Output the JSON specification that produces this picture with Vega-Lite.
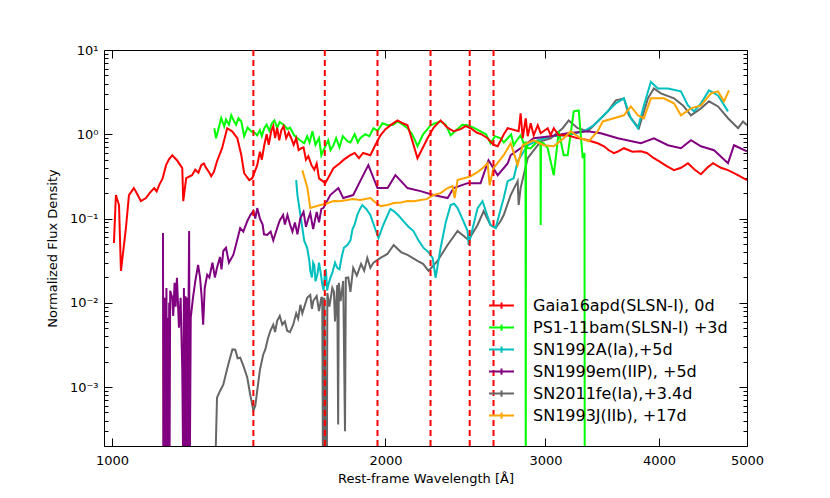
{
  "$schema": "https://vega.github.io/schema/vega-lite/v6.json",
  "width": 643,
  "height": 396,
  "autosize": "none",
  "padding": {"left": 104, "top": 50, "right": 83, "bottom": 52},
  "background": "white",
  "config": {
    "view": {"stroke": "black", "strokeWidth": 1},
    "font": "DejaVu Sans",
    "axis": {"grid": false, "domain": false, "tickColor": "black", "labelColor": "black", "titleColor": "black", "labelFont": "DejaVu Sans", "titleFont": "DejaVu Sans", "labelFontSize": 13, "titleFontSize": 13, "titleFontWeight": "normal", "tickWidth": 1}
  },
  "datasets": {
    "lines": [{"w": 1431}, {"w": 1715}, {"w": 1960}, {"w": 2242}, {"w": 2476}, {"w": 2630}],
    "ticks": [{"v": 0.001}, {"v": 0.01}, {"v": 0.1}, {"v": 1}, {"v": 10}],
    "spectra": [
      {"s": "SN2011fe(Ia),+3.4d", "w": 1299, "f": 0.0001},
      {"s": "SN2011fe(Ia),+3.4d", "w": 1305, "f": 0.00075},
      {"s": "SN2011fe(Ia),+3.4d", "w": 1315, "f": 0.0009},
      {"s": "SN2011fe(Ia),+3.4d", "w": 1326, "f": 0.00107},
      {"s": "SN2011fe(Ia),+3.4d", "w": 1338, "f": 0.0016},
      {"s": "SN2011fe(Ia),+3.4d", "w": 1349, "f": 0.00223},
      {"s": "SN2011fe(Ia),+3.4d", "w": 1357, "f": 0.0028},
      {"s": "SN2011fe(Ia),+3.4d", "w": 1367, "f": 0.00278},
      {"s": "SN2011fe(Ia),+3.4d", "w": 1375, "f": 0.0022},
      {"s": "SN2011fe(Ia),+3.4d", "w": 1384, "f": 0.00223},
      {"s": "SN2011fe(Ia),+3.4d", "w": 1395, "f": 0.0018},
      {"s": "SN2011fe(Ia),+3.4d", "w": 1409, "f": 0.0013},
      {"s": "SN2011fe(Ia),+3.4d", "w": 1420, "f": 0.0008},
      {"s": "SN2011fe(Ia),+3.4d", "w": 1431, "f": 0.00053},
      {"s": "SN2011fe(Ia),+3.4d", "w": 1438, "f": 0.0006},
      {"s": "SN2011fe(Ia),+3.4d", "w": 1445, "f": 0.00091},
      {"s": "SN2011fe(Ia),+3.4d", "w": 1455, "f": 0.0016},
      {"s": "SN2011fe(Ia),+3.4d", "w": 1467, "f": 0.00242},
      {"s": "SN2011fe(Ia),+3.4d", "w": 1475, "f": 0.0028},
      {"s": "SN2011fe(Ia),+3.4d", "w": 1485, "f": 0.0038},
      {"s": "SN2011fe(Ia),+3.4d", "w": 1494, "f": 0.00466},
      {"s": "SN2011fe(Ia),+3.4d", "w": 1505, "f": 0.0055},
      {"s": "SN2011fe(Ia),+3.4d", "w": 1512, "f": 0.0045},
      {"s": "SN2011fe(Ia),+3.4d", "w": 1520, "f": 0.00612},
      {"s": "SN2011fe(Ia),+3.4d", "w": 1530, "f": 0.007},
      {"s": "SN2011fe(Ia),+3.4d", "w": 1540, "f": 0.0055},
      {"s": "SN2011fe(Ia),+3.4d", "w": 1550, "f": 0.006},
      {"s": "SN2011fe(Ia),+3.4d", "w": 1559, "f": 0.00466},
      {"s": "SN2011fe(Ia),+3.4d", "w": 1570, "f": 0.0045},
      {"s": "SN2011fe(Ia),+3.4d", "w": 1583, "f": 0.00549},
      {"s": "SN2011fe(Ia),+3.4d", "w": 1595, "f": 0.0075},
      {"s": "SN2011fe(Ia),+3.4d", "w": 1603, "f": 0.0065},
      {"s": "SN2011fe(Ia),+3.4d", "w": 1612, "f": 0.00947},
      {"s": "SN2011fe(Ia),+3.4d", "w": 1620, "f": 0.0075},
      {"s": "SN2011fe(Ia),+3.4d", "w": 1640, "f": 0.0115},
      {"s": "SN2011fe(Ia),+3.4d", "w": 1653, "f": 0.0124},
      {"s": "SN2011fe(Ia),+3.4d", "w": 1660, "f": 0.0085},
      {"s": "SN2011fe(Ia),+3.4d", "w": 1666, "f": 0.0106},
      {"s": "SN2011fe(Ia),+3.4d", "w": 1680, "f": 0.012},
      {"s": "SN2011fe(Ia),+3.4d", "w": 1690, "f": 0.008},
      {"s": "SN2011fe(Ia),+3.4d", "w": 1700, "f": 0.0115},
      {"s": "SN2011fe(Ia),+3.4d", "w": 1704, "f": 0.0115},
      {"s": "SN2011fe(Ia),+3.4d", "w": 1707, "f": 0.0001},
      {"s": "SN2011fe(Ia),+3.4d", "w": 1711, "f": 0.0001},
      {"s": "SN2011fe(Ia),+3.4d", "w": 1713, "f": 0.0115},
      {"s": "SN2011fe(Ia),+3.4d", "w": 1720, "f": 0.0001},
      {"s": "SN2011fe(Ia),+3.4d", "w": 1724, "f": 0.0001},
      {"s": "SN2011fe(Ia),+3.4d", "w": 1726, "f": 0.0131},
      {"s": "SN2011fe(Ia),+3.4d", "w": 1735, "f": 0.009},
      {"s": "SN2011fe(Ia),+3.4d", "w": 1748, "f": 0.015},
      {"s": "SN2011fe(Ia),+3.4d", "w": 1755, "f": 0.0135},
      {"s": "SN2011fe(Ia),+3.4d", "w": 1760, "f": 0.006},
      {"s": "SN2011fe(Ia),+3.4d", "w": 1770, "f": 0.0163},
      {"s": "SN2011fe(Ia),+3.4d", "w": 1774, "f": 0.00036},
      {"s": "SN2011fe(Ia),+3.4d", "w": 1777, "f": 0.0173},
      {"s": "SN2011fe(Ia),+3.4d", "w": 1785, "f": 0.0105},
      {"s": "SN2011fe(Ia),+3.4d", "w": 1797, "f": 0.0182},
      {"s": "SN2011fe(Ia),+3.4d", "w": 1805, "f": 0.0003},
      {"s": "SN2011fe(Ia),+3.4d", "w": 1809, "f": 0.0198},
      {"s": "SN2011fe(Ia),+3.4d", "w": 1820, "f": 0.02},
      {"s": "SN2011fe(Ia),+3.4d", "w": 1830, "f": 0.0135},
      {"s": "SN2011fe(Ia),+3.4d", "w": 1843, "f": 0.026},
      {"s": "SN2011fe(Ia),+3.4d", "w": 1860, "f": 0.021},
      {"s": "SN2011fe(Ia),+3.4d", "w": 1880, "f": 0.029},
      {"s": "SN2011fe(Ia),+3.4d", "w": 1895, "f": 0.024},
      {"s": "SN2011fe(Ia),+3.4d", "w": 1910, "f": 0.0341},
      {"s": "SN2011fe(Ia),+3.4d", "w": 1925, "f": 0.026},
      {"s": "SN2011fe(Ia),+3.4d", "w": 1940, "f": 0.03},
      {"s": "SN2011fe(Ia),+3.4d", "w": 1975, "f": 0.0341},
      {"s": "SN2011fe(Ia),+3.4d", "w": 2010, "f": 0.038},
      {"s": "SN2011fe(Ia),+3.4d", "w": 2042, "f": 0.0486},
      {"s": "SN2011fe(Ia),+3.4d", "w": 2080, "f": 0.04},
      {"s": "SN2011fe(Ia),+3.4d", "w": 2115, "f": 0.037},
      {"s": "SN2011fe(Ia),+3.4d", "w": 2169, "f": 0.0314},
      {"s": "SN2011fe(Ia),+3.4d", "w": 2200, "f": 0.029},
      {"s": "SN2011fe(Ia),+3.4d", "w": 2231, "f": 0.0239},
      {"s": "SN2011fe(Ia),+3.4d", "w": 2282, "f": 0.0314},
      {"s": "SN2011fe(Ia),+3.4d", "w": 2341, "f": 0.0486},
      {"s": "SN2011fe(Ia),+3.4d", "w": 2401, "f": 0.0711},
      {"s": "SN2011fe(Ia),+3.4d", "w": 2469, "f": 0.0557},
      {"s": "SN2011fe(Ia),+3.4d", "w": 2526, "f": 0.0838},
      {"s": "SN2011fe(Ia),+3.4d", "w": 2565, "f": 0.1227},
      {"s": "SN2011fe(Ia),+3.4d", "w": 2610, "f": 0.0838},
      {"s": "SN2011fe(Ia),+3.4d", "w": 2644, "f": 0.0772},
      {"s": "SN2011fe(Ia),+3.4d", "w": 2678, "f": 0.0934},
      {"s": "SN2011fe(Ia),+3.4d", "w": 2699, "f": 0.11},
      {"s": "SN2011fe(Ia),+3.4d", "w": 2747, "f": 0.19},
      {"s": "SN2011fe(Ia),+3.4d", "w": 2796, "f": 0.278},
      {"s": "SN2011fe(Ia),+3.4d", "w": 2803, "f": 0.1445},
      {"s": "SN2011fe(Ia),+3.4d", "w": 2817, "f": 0.23},
      {"s": "SN2011fe(Ia),+3.4d", "w": 2868, "f": 0.52},
      {"s": "SN2011fe(Ia),+3.4d", "w": 2964, "f": 0.826},
      {"s": "SN2011fe(Ia),+3.4d", "w": 3040, "f": 0.897},
      {"s": "SN2011fe(Ia),+3.4d", "w": 3134, "f": 1.18},
      {"s": "SN2011fe(Ia),+3.4d", "w": 3182, "f": 1.46},
      {"s": "SN2011fe(Ia),+3.4d", "w": 3255, "f": 1.18},
      {"s": "SN2011fe(Ia),+3.4d", "w": 3339, "f": 1.085},
      {"s": "SN2011fe(Ia),+3.4d", "w": 3425, "f": 1.42},
      {"s": "SN2011fe(Ia),+3.4d", "w": 3514, "f": 1.87},
      {"s": "SN2011fe(Ia),+3.4d", "w": 3586, "f": 2.53},
      {"s": "SN2011fe(Ia),+3.4d", "w": 3660, "f": 2.67},
      {"s": "SN2011fe(Ia),+3.4d", "w": 3706, "f": 1.68},
      {"s": "SN2011fe(Ia),+3.4d", "w": 3802, "f": 1.18},
      {"s": "SN2011fe(Ia),+3.4d", "w": 3890, "f": 2.67},
      {"s": "SN2011fe(Ia),+3.4d", "w": 3949, "f": 3.5},
      {"s": "SN2011fe(Ia),+3.4d", "w": 4020, "f": 3.06},
      {"s": "SN2011fe(Ia),+3.4d", "w": 4155, "f": 2.67},
      {"s": "SN2011fe(Ia),+3.4d", "w": 4251, "f": 2.2},
      {"s": "SN2011fe(Ia),+3.4d", "w": 4338, "f": 1.68},
      {"s": "SN2011fe(Ia),+3.4d", "w": 4449, "f": 2.03},
      {"s": "SN2011fe(Ia),+3.4d", "w": 4541, "f": 2.46},
      {"s": "SN2011fe(Ia),+3.4d", "w": 4646, "f": 2.14},
      {"s": "SN2011fe(Ia),+3.4d", "w": 4765, "f": 1.55},
      {"s": "SN2011fe(Ia),+3.4d", "w": 4888, "f": 1.18},
      {"s": "SN2011fe(Ia),+3.4d", "w": 4950, "f": 1.42},
      {"s": "SN2011fe(Ia),+3.4d", "w": 5000, "f": 1.28},

      {"s": "SN1992A(Ia),+5d", "w": 1595, "f": 0.286},
      {"s": "SN1992A(Ia),+5d", "w": 1600, "f": 0.19},
      {"s": "SN1992A(Ia),+5d", "w": 1616, "f": 0.0934},
      {"s": "SN1992A(Ia),+5d", "w": 1628, "f": 0.0542},
      {"s": "SN1992A(Ia),+5d", "w": 1640, "f": 0.045},
      {"s": "SN1992A(Ia),+5d", "w": 1649, "f": 0.0314},
      {"s": "SN1992A(Ia),+5d", "w": 1653, "f": 0.0239},
      {"s": "SN1992A(Ia),+5d", "w": 1660, "f": 0.02},
      {"s": "SN1992A(Ia),+5d", "w": 1665, "f": 0.03},
      {"s": "SN1992A(Ia),+5d", "w": 1670, "f": 0.028},
      {"s": "SN1992A(Ia),+5d", "w": 1675, "f": 0.018},
      {"s": "SN1992A(Ia),+5d", "w": 1683, "f": 0.0215},
      {"s": "SN1992A(Ia),+5d", "w": 1690, "f": 0.03},
      {"s": "SN1992A(Ia),+5d", "w": 1696, "f": 0.0239},
      {"s": "SN1992A(Ia),+5d", "w": 1700, "f": 0.02},
      {"s": "SN1992A(Ia),+5d", "w": 1704, "f": 0.0163},
      {"s": "SN1992A(Ia),+5d", "w": 1710, "f": 0.014},
      {"s": "SN1992A(Ia),+5d", "w": 1715, "f": 0.022},
      {"s": "SN1992A(Ia),+5d", "w": 1720, "f": 0.025},
      {"s": "SN1992A(Ia),+5d", "w": 1725, "f": 0.014},
      {"s": "SN1992A(Ia),+5d", "w": 1730, "f": 0.0163},
      {"s": "SN1992A(Ia),+5d", "w": 1740, "f": 0.02},
      {"s": "SN1992A(Ia),+5d", "w": 1748, "f": 0.0226},
      {"s": "SN1992A(Ia),+5d", "w": 1760, "f": 0.03},
      {"s": "SN1992A(Ia),+5d", "w": 1770, "f": 0.026},
      {"s": "SN1992A(Ia),+5d", "w": 1780, "f": 0.025},
      {"s": "SN1992A(Ia),+5d", "w": 1790, "f": 0.035},
      {"s": "SN1992A(Ia),+5d", "w": 1800, "f": 0.045},
      {"s": "SN1992A(Ia),+5d", "w": 1816, "f": 0.0486},
      {"s": "SN1992A(Ia),+5d", "w": 1830, "f": 0.055},
      {"s": "SN1992A(Ia),+5d", "w": 1840, "f": 0.075},
      {"s": "SN1992A(Ia),+5d", "w": 1850, "f": 0.085},
      {"s": "SN1992A(Ia),+5d", "w": 1862, "f": 0.11},
      {"s": "SN1992A(Ia),+5d", "w": 1875, "f": 0.13},
      {"s": "SN1992A(Ia),+5d", "w": 1886, "f": 0.1445},
      {"s": "SN1992A(Ia),+5d", "w": 1905, "f": 0.13},
      {"s": "SN1992A(Ia),+5d", "w": 1925, "f": 0.11},
      {"s": "SN1992A(Ia),+5d", "w": 1945, "f": 0.08},
      {"s": "SN1992A(Ia),+5d", "w": 1965, "f": 0.0588},
      {"s": "SN1992A(Ia),+5d", "w": 1990, "f": 0.085},
      {"s": "SN1992A(Ia),+5d", "w": 2011, "f": 0.11},
      {"s": "SN1992A(Ia),+5d", "w": 2025, "f": 0.13},
      {"s": "SN1992A(Ia),+5d", "w": 2042, "f": 0.1227},
      {"s": "SN1992A(Ia),+5d", "w": 2065, "f": 0.11},
      {"s": "SN1992A(Ia),+5d", "w": 2093, "f": 0.0934},
      {"s": "SN1992A(Ia),+5d", "w": 2120, "f": 0.08},
      {"s": "SN1992A(Ia),+5d", "w": 2147, "f": 0.0711},
      {"s": "SN1992A(Ia),+5d", "w": 2175, "f": 0.055},
      {"s": "SN1992A(Ia),+5d", "w": 2203, "f": 0.0448},
      {"s": "SN1992A(Ia),+5d", "w": 2230, "f": 0.04},
      {"s": "SN1992A(Ia),+5d", "w": 2254, "f": 0.0341},
      {"s": "SN1992A(Ia),+5d", "w": 2271, "f": 0.0198},
      {"s": "SN1992A(Ia),+5d", "w": 2300, "f": 0.0448},
      {"s": "SN1992A(Ia),+5d", "w": 2330, "f": 0.09},
      {"s": "SN1992A(Ia),+5d", "w": 2359, "f": 0.1445},
      {"s": "SN1992A(Ia),+5d", "w": 2380, "f": 0.15},
      {"s": "SN1992A(Ia),+5d", "w": 2401, "f": 0.1331},
      {"s": "SN1992A(Ia),+5d", "w": 2430, "f": 0.1},
      {"s": "SN1992A(Ia),+5d", "w": 2463, "f": 0.0711},
      {"s": "SN1992A(Ia),+5d", "w": 2469, "f": 0.0486},
      {"s": "SN1992A(Ia),+5d", "w": 2526, "f": 0.1331},
      {"s": "SN1992A(Ia),+5d", "w": 2558, "f": 0.161},
      {"s": "SN1992A(Ia),+5d", "w": 2610, "f": 0.0838},
      {"s": "SN1992A(Ia),+5d", "w": 2644, "f": 0.0772},
      {"s": "SN1992A(Ia),+5d", "w": 2699, "f": 0.175},
      {"s": "SN1992A(Ia),+5d", "w": 2726, "f": 0.278},
      {"s": "SN1992A(Ia),+5d", "w": 2768, "f": 0.3},
      {"s": "SN1992A(Ia),+5d", "w": 2796, "f": 0.479},
      {"s": "SN1992A(Ia),+5d", "w": 2868, "f": 0.741},
      {"s": "SN1992A(Ia),+5d", "w": 2942, "f": 0.849},
      {"s": "SN1992A(Ia),+5d", "w": 3040, "f": 0.947},
      {"s": "SN1992A(Ia),+5d", "w": 3174, "f": 0.973},
      {"s": "SN1992A(Ia),+5d", "w": 3305, "f": 1.085},
      {"s": "SN1992A(Ia),+5d", "w": 3391, "f": 1.28},
      {"s": "SN1992A(Ia),+5d", "w": 3478, "f": 1.68},
      {"s": "SN1992A(Ia),+5d", "w": 3586, "f": 2.33},
      {"s": "SN1992A(Ia),+5d", "w": 3660, "f": 2.67},
      {"s": "SN1992A(Ia),+5d", "w": 3725, "f": 1.55},
      {"s": "SN1992A(Ia),+5d", "w": 3792, "f": 1.18},
      {"s": "SN1992A(Ia),+5d", "w": 3850, "f": 2.2},
      {"s": "SN1992A(Ia),+5d", "w": 3919, "f": 4.2},
      {"s": "SN1992A(Ia),+5d", "w": 3989, "f": 3.5},
      {"s": "SN1992A(Ia),+5d", "w": 4092, "f": 3.5},
      {"s": "SN1992A(Ia),+5d", "w": 4229, "f": 3.23},
      {"s": "SN1992A(Ia),+5d", "w": 4305, "f": 2.2},
      {"s": "SN1992A(Ia),+5d", "w": 4371, "f": 1.87},
      {"s": "SN1992A(Ia),+5d", "w": 4449, "f": 2.33},
      {"s": "SN1992A(Ia),+5d", "w": 4541, "f": 3.32},
      {"s": "SN1992A(Ia),+5d", "w": 4646, "f": 2.89},
      {"s": "SN1992A(Ia),+5d", "w": 4765, "f": 1.87},

      {"s": "SN1999em(IIP), +5d", "w": 1138, "f": 0.0674},
      {"s": "SN1999em(IIP), +5d", "w": 1139, "f": 0.0001},
      {"s": "SN1999em(IIP), +5d", "w": 1142, "f": 0.0115},
      {"s": "SN1999em(IIP), +5d", "w": 1145, "f": 0.0001},
      {"s": "SN1999em(IIP), +5d", "w": 1148, "f": 0.015},
      {"s": "SN1999em(IIP), +5d", "w": 1150, "f": 0.0001},
      {"s": "SN1999em(IIP), +5d", "w": 1152, "f": 0.00665},
      {"s": "SN1999em(IIP), +5d", "w": 1154, "f": 0.0001},
      {"s": "SN1999em(IIP), +5d", "w": 1156, "f": 0.01},
      {"s": "SN1999em(IIP), +5d", "w": 1157, "f": 0.0001},
      {"s": "SN1999em(IIP), +5d", "w": 1159, "f": 0.0139},
      {"s": "SN1999em(IIP), +5d", "w": 1165, "f": 0.0115},
      {"s": "SN1999em(IIP), +5d", "w": 1168, "f": 0.007},
      {"s": "SN1999em(IIP), +5d", "w": 1172, "f": 0.0173},
      {"s": "SN1999em(IIP), +5d", "w": 1175, "f": 0.009},
      {"s": "SN1999em(IIP), +5d", "w": 1179, "f": 0.0198},
      {"s": "SN1999em(IIP), +5d", "w": 1185, "f": 0.00506},
      {"s": "SN1999em(IIP), +5d", "w": 1190, "f": 0.0115},
      {"s": "SN1999em(IIP), +5d", "w": 1195, "f": 0.00157},
      {"s": "SN1999em(IIP), +5d", "w": 1198, "f": 0.0001},
      {"s": "SN1999em(IIP), +5d", "w": 1200, "f": 0.015},
      {"s": "SN1999em(IIP), +5d", "w": 1202, "f": 0.0001},
      {"s": "SN1999em(IIP), +5d", "w": 1205, "f": 0.012},
      {"s": "SN1999em(IIP), +5d", "w": 1207, "f": 0.0001},
      {"s": "SN1999em(IIP), +5d", "w": 1210, "f": 0.0115},
      {"s": "SN1999em(IIP), +5d", "w": 1212, "f": 0.0001},
      {"s": "SN1999em(IIP), +5d", "w": 1214, "f": 0.008},
      {"s": "SN1999em(IIP), +5d", "w": 1216, "f": 0.0711},
      {"s": "SN1999em(IIP), +5d", "w": 1218, "f": 0.0001},
      {"s": "SN1999em(IIP), +5d", "w": 1221, "f": 0.00665},
      {"s": "SN1999em(IIP), +5d", "w": 1228, "f": 0.0115},
      {"s": "SN1999em(IIP), +5d", "w": 1235, "f": 0.018},
      {"s": "SN1999em(IIP), +5d", "w": 1244, "f": 0.0282},
      {"s": "SN1999em(IIP), +5d", "w": 1250, "f": 0.02},
      {"s": "SN1999em(IIP), +5d", "w": 1255, "f": 0.012},
      {"s": "SN1999em(IIP), +5d", "w": 1260, "f": 0.00549},
      {"s": "SN1999em(IIP), +5d", "w": 1265, "f": 0.015},
      {"s": "SN1999em(IIP), +5d", "w": 1273, "f": 0.0215},
      {"s": "SN1999em(IIP), +5d", "w": 1280, "f": 0.02},
      {"s": "SN1999em(IIP), +5d", "w": 1290, "f": 0.03},
      {"s": "SN1999em(IIP), +5d", "w": 1298, "f": 0.02},
      {"s": "SN1999em(IIP), +5d", "w": 1305, "f": 0.026},
      {"s": "SN1999em(IIP), +5d", "w": 1315, "f": 0.035},
      {"s": "SN1999em(IIP), +5d", "w": 1320, "f": 0.025},
      {"s": "SN1999em(IIP), +5d", "w": 1326, "f": 0.0412},
      {"s": "SN1999em(IIP), +5d", "w": 1335, "f": 0.045},
      {"s": "SN1999em(IIP), +5d", "w": 1345, "f": 0.03},
      {"s": "SN1999em(IIP), +5d", "w": 1360, "f": 0.037},
      {"s": "SN1999em(IIP), +5d", "w": 1370, "f": 0.05},
      {"s": "SN1999em(IIP), +5d", "w": 1384, "f": 0.0772},
      {"s": "SN1999em(IIP), +5d", "w": 1395, "f": 0.07},
      {"s": "SN1999em(IIP), +5d", "w": 1409, "f": 0.0934},
      {"s": "SN1999em(IIP), +5d", "w": 1420, "f": 0.11},
      {"s": "SN1999em(IIP), +5d", "w": 1431, "f": 0.1227},
      {"s": "SN1999em(IIP), +5d", "w": 1438, "f": 0.1},
      {"s": "SN1999em(IIP), +5d", "w": 1445, "f": 0.1331},
      {"s": "SN1999em(IIP), +5d", "w": 1455, "f": 0.1},
      {"s": "SN1999em(IIP), +5d", "w": 1465, "f": 0.085},
      {"s": "SN1999em(IIP), +5d", "w": 1470, "f": 0.065},
      {"s": "SN1999em(IIP), +5d", "w": 1482, "f": 0.0638},
      {"s": "SN1999em(IIP), +5d", "w": 1495, "f": 0.07},
      {"s": "SN1999em(IIP), +5d", "w": 1505, "f": 0.055},
      {"s": "SN1999em(IIP), +5d", "w": 1520, "f": 0.0772},
      {"s": "SN1999em(IIP), +5d", "w": 1530, "f": 0.095},
      {"s": "SN1999em(IIP), +5d", "w": 1543, "f": 0.11},
      {"s": "SN1999em(IIP), +5d", "w": 1550, "f": 0.085},
      {"s": "SN1999em(IIP), +5d", "w": 1560, "f": 0.11},
      {"s": "SN1999em(IIP), +5d", "w": 1571, "f": 0.0838},
      {"s": "SN1999em(IIP), +5d", "w": 1580, "f": 0.07},
      {"s": "SN1999em(IIP), +5d", "w": 1590, "f": 0.09},
      {"s": "SN1999em(IIP), +5d", "w": 1600, "f": 0.065},
      {"s": "SN1999em(IIP), +5d", "w": 1612, "f": 0.1014},
      {"s": "SN1999em(IIP), +5d", "w": 1625, "f": 0.12},
      {"s": "SN1999em(IIP), +5d", "w": 1635, "f": 0.08},
      {"s": "SN1999em(IIP), +5d", "w": 1645, "f": 0.1},
      {"s": "SN1999em(IIP), +5d", "w": 1653, "f": 0.116},
      {"s": "SN1999em(IIP), +5d", "w": 1665, "f": 0.075},
      {"s": "SN1999em(IIP), +5d", "w": 1680, "f": 0.12},
      {"s": "SN1999em(IIP), +5d", "w": 1690, "f": 0.09},
      {"s": "SN1999em(IIP), +5d", "w": 1700, "f": 0.13},
      {"s": "SN1999em(IIP), +5d", "w": 1709, "f": 0.1331},
      {"s": "SN1999em(IIP), +5d", "w": 1739, "f": 0.19},
      {"s": "SN1999em(IIP), +5d", "w": 1775, "f": 0.23},
      {"s": "SN1999em(IIP), +5d", "w": 1797, "f": 0.175},
      {"s": "SN1999em(IIP), +5d", "w": 1843, "f": 0.19},
      {"s": "SN1999em(IIP), +5d", "w": 1876, "f": 0.278},
      {"s": "SN1999em(IIP), +5d", "w": 1915, "f": 0.43},
      {"s": "SN1999em(IIP), +5d", "w": 1960, "f": 0.23},
      {"s": "SN1999em(IIP), +5d", "w": 2011, "f": 0.23},
      {"s": "SN1999em(IIP), +5d", "w": 2051, "f": 0.327},
      {"s": "SN1999em(IIP), +5d", "w": 2115, "f": 0.23},
      {"s": "SN1999em(IIP), +5d", "w": 2186, "f": 0.2115},
      {"s": "SN1999em(IIP), +5d", "w": 2259, "f": 0.19},
      {"s": "SN1999em(IIP), +5d", "w": 2341, "f": 0.175},
      {"s": "SN1999em(IIP), +5d", "w": 2377, "f": 0.23},
      {"s": "SN1999em(IIP), +5d", "w": 2463, "f": 0.263},
      {"s": "SN1999em(IIP), +5d", "w": 2545, "f": 0.263},
      {"s": "SN1999em(IIP), +5d", "w": 2597, "f": 0.492},
      {"s": "SN1999em(IIP), +5d", "w": 2658, "f": 0.327},
      {"s": "SN1999em(IIP), +5d", "w": 2726, "f": 0.45},
      {"s": "SN1999em(IIP), +5d", "w": 2747, "f": 0.564},
      {"s": "SN1999em(IIP), +5d", "w": 2817, "f": 0.683},
      {"s": "SN1999em(IIP), +5d", "w": 2912, "f": 0.897},
      {"s": "SN1999em(IIP), +5d", "w": 3040, "f": 0.947},
      {"s": "SN1999em(IIP), +5d", "w": 3174, "f": 1.03},
      {"s": "SN1999em(IIP), +5d", "w": 3339, "f": 1.085},
      {"s": "SN1999em(IIP), +5d", "w": 3452, "f": 1.03},
      {"s": "SN1999em(IIP), +5d", "w": 3604, "f": 0.897},
      {"s": "SN1999em(IIP), +5d", "w": 3821, "f": 0.782},
      {"s": "SN1999em(IIP), +5d", "w": 3949, "f": 0.897},
      {"s": "SN1999em(IIP), +5d", "w": 4092, "f": 0.741},
      {"s": "SN1999em(IIP), +5d", "w": 4229, "f": 0.683},
      {"s": "SN1999em(IIP), +5d", "w": 4338, "f": 0.849},
      {"s": "SN1999em(IIP), +5d", "w": 4449, "f": 0.721},
      {"s": "SN1999em(IIP), +5d", "w": 4599, "f": 0.647},
      {"s": "SN1999em(IIP), +5d", "w": 4765, "f": 0.454},
      {"s": "SN1999em(IIP), +5d", "w": 4838, "f": 0.741},
      {"s": "SN1999em(IIP), +5d", "w": 5000, "f": 0.629},

      {"s": "PS1-11bam(SLSN-I) +3d", "w": 1296, "f": 1.18},
      {"s": "PS1-11bam(SLSN-I) +3d", "w": 1302, "f": 0.897},
      {"s": "PS1-11bam(SLSN-I) +3d", "w": 1319, "f": 1.55},
      {"s": "PS1-11bam(SLSN-I) +3d", "w": 1329, "f": 1.24},
      {"s": "PS1-11bam(SLSN-I) +3d", "w": 1335, "f": 1.5},
      {"s": "PS1-11bam(SLSN-I) +3d", "w": 1345, "f": 1.3},
      {"s": "PS1-11bam(SLSN-I) +3d", "w": 1353, "f": 1.68},
      {"s": "PS1-11bam(SLSN-I) +3d", "w": 1363, "f": 1.42},
      {"s": "PS1-11bam(SLSN-I) +3d", "w": 1370, "f": 1.3},
      {"s": "PS1-11bam(SLSN-I) +3d", "w": 1378, "f": 1.55},
      {"s": "PS1-11bam(SLSN-I) +3d", "w": 1388, "f": 1.42},
      {"s": "PS1-11bam(SLSN-I) +3d", "w": 1398, "f": 0.947},
      {"s": "PS1-11bam(SLSN-I) +3d", "w": 1410, "f": 1.2},
      {"s": "PS1-11bam(SLSN-I) +3d", "w": 1423, "f": 1.085},
      {"s": "PS1-11bam(SLSN-I) +3d", "w": 1435, "f": 1.05},
      {"s": "PS1-11bam(SLSN-I) +3d", "w": 1445, "f": 0.973},
      {"s": "PS1-11bam(SLSN-I) +3d", "w": 1455, "f": 1.12},
      {"s": "PS1-11bam(SLSN-I) +3d", "w": 1462, "f": 0.95},
      {"s": "PS1-11bam(SLSN-I) +3d", "w": 1471, "f": 1.18},
      {"s": "PS1-11bam(SLSN-I) +3d", "w": 1480, "f": 1.3},
      {"s": "PS1-11bam(SLSN-I) +3d", "w": 1490, "f": 1.1},
      {"s": "PS1-11bam(SLSN-I) +3d", "w": 1500, "f": 1.35},
      {"s": "PS1-11bam(SLSN-I) +3d", "w": 1509, "f": 1.46},
      {"s": "PS1-11bam(SLSN-I) +3d", "w": 1520, "f": 1.2},
      {"s": "PS1-11bam(SLSN-I) +3d", "w": 1530, "f": 1.4},
      {"s": "PS1-11bam(SLSN-I) +3d", "w": 1547, "f": 1.28},
      {"s": "PS1-11bam(SLSN-I) +3d", "w": 1560, "f": 1.15},
      {"s": "PS1-11bam(SLSN-I) +3d", "w": 1570, "f": 1.2},
      {"s": "PS1-11bam(SLSN-I) +3d", "w": 1587, "f": 0.973},
      {"s": "PS1-11bam(SLSN-I) +3d", "w": 1600, "f": 0.9},
      {"s": "PS1-11bam(SLSN-I) +3d", "w": 1610, "f": 0.85},
      {"s": "PS1-11bam(SLSN-I) +3d", "w": 1628, "f": 0.782},
      {"s": "PS1-11bam(SLSN-I) +3d", "w": 1640, "f": 0.95},
      {"s": "PS1-11bam(SLSN-I) +3d", "w": 1650, "f": 0.8},
      {"s": "PS1-11bam(SLSN-I) +3d", "w": 1662, "f": 1.085},
      {"s": "PS1-11bam(SLSN-I) +3d", "w": 1675, "f": 0.75},
      {"s": "PS1-11bam(SLSN-I) +3d", "w": 1690, "f": 0.9},
      {"s": "PS1-11bam(SLSN-I) +3d", "w": 1700, "f": 0.564},
      {"s": "PS1-11bam(SLSN-I) +3d", "w": 1715, "f": 0.7},
      {"s": "PS1-11bam(SLSN-I) +3d", "w": 1730, "f": 0.85},
      {"s": "PS1-11bam(SLSN-I) +3d", "w": 1740, "f": 0.65},
      {"s": "PS1-11bam(SLSN-I) +3d", "w": 1753, "f": 0.741},
      {"s": "PS1-11bam(SLSN-I) +3d", "w": 1765, "f": 0.9},
      {"s": "PS1-11bam(SLSN-I) +3d", "w": 1780, "f": 0.7},
      {"s": "PS1-11bam(SLSN-I) +3d", "w": 1795, "f": 0.95},
      {"s": "PS1-11bam(SLSN-I) +3d", "w": 1816, "f": 0.826},
      {"s": "PS1-11bam(SLSN-I) +3d", "w": 1830, "f": 0.8},
      {"s": "PS1-11bam(SLSN-I) +3d", "w": 1850, "f": 1.0},
      {"s": "PS1-11bam(SLSN-I) +3d", "w": 1865, "f": 0.8},
      {"s": "PS1-11bam(SLSN-I) +3d", "w": 1876, "f": 0.897},
      {"s": "PS1-11bam(SLSN-I) +3d", "w": 1900, "f": 1.0},
      {"s": "PS1-11bam(SLSN-I) +3d", "w": 1920, "f": 0.95},
      {"s": "PS1-11bam(SLSN-I) +3d", "w": 1940, "f": 1.18},
      {"s": "PS1-11bam(SLSN-I) +3d", "w": 1960, "f": 1.1},
      {"s": "PS1-11bam(SLSN-I) +3d", "w": 1985, "f": 1.35},
      {"s": "PS1-11bam(SLSN-I) +3d", "w": 2011, "f": 1.28},
      {"s": "PS1-11bam(SLSN-I) +3d", "w": 2040, "f": 1.3},
      {"s": "PS1-11bam(SLSN-I) +3d", "w": 2062, "f": 1.42},
      {"s": "PS1-11bam(SLSN-I) +3d", "w": 2090, "f": 1.3},
      {"s": "PS1-11bam(SLSN-I) +3d", "w": 2115, "f": 1.18},
      {"s": "PS1-11bam(SLSN-I) +3d", "w": 2140, "f": 1.0},
      {"s": "PS1-11bam(SLSN-I) +3d", "w": 2155, "f": 0.85},
      {"s": "PS1-11bam(SLSN-I) +3d", "w": 2169, "f": 0.721},
      {"s": "PS1-11bam(SLSN-I) +3d", "w": 2200, "f": 1.0},
      {"s": "PS1-11bam(SLSN-I) +3d", "w": 2225, "f": 1.15},
      {"s": "PS1-11bam(SLSN-I) +3d", "w": 2242, "f": 1.28},
      {"s": "PS1-11bam(SLSN-I) +3d", "w": 2270, "f": 1.35},
      {"s": "PS1-11bam(SLSN-I) +3d", "w": 2300, "f": 1.42},
      {"s": "PS1-11bam(SLSN-I) +3d", "w": 2330, "f": 1.3},
      {"s": "PS1-11bam(SLSN-I) +3d", "w": 2359, "f": 0.973},
      {"s": "PS1-11bam(SLSN-I) +3d", "w": 2400, "f": 1.15},
      {"s": "PS1-11bam(SLSN-I) +3d", "w": 2430, "f": 1.3},
      {"s": "PS1-11bam(SLSN-I) +3d", "w": 2463, "f": 1.28},
      {"s": "PS1-11bam(SLSN-I) +3d", "w": 2500, "f": 1.2},
      {"s": "PS1-11bam(SLSN-I) +3d", "w": 2545, "f": 1.085},
      {"s": "PS1-11bam(SLSN-I) +3d", "w": 2580, "f": 1.0},
      {"s": "PS1-11bam(SLSN-I) +3d", "w": 2610, "f": 0.782},
      {"s": "PS1-11bam(SLSN-I) +3d", "w": 2640, "f": 0.95},
      {"s": "PS1-11bam(SLSN-I) +3d", "w": 2678, "f": 0.897},
      {"s": "PS1-11bam(SLSN-I) +3d", "w": 2700, "f": 0.8},
      {"s": "PS1-11bam(SLSN-I) +3d", "w": 2726, "f": 0.897},
      {"s": "PS1-11bam(SLSN-I) +3d", "w": 2750, "f": 1.0},
      {"s": "PS1-11bam(SLSN-I) +3d", "w": 2768, "f": 0.741},
      {"s": "PS1-11bam(SLSN-I) +3d", "w": 2790, "f": 0.85},
      {"s": "PS1-11bam(SLSN-I) +3d", "w": 2817, "f": 0.973},
      {"s": "PS1-11bam(SLSN-I) +3d", "w": 2839, "f": 0.782},
      {"s": "PS1-11bam(SLSN-I) +3d", "w": 2852, "f": 0.8},
      {"s": "PS1-11bam(SLSN-I) +3d", "w": 2854, "f": 0.0001},
      {"s": "PS1-11bam(SLSN-I) +3d", "w": 2856, "f": 0.8},
      {"s": "PS1-11bam(SLSN-I) +3d", "w": 2868, "f": 0.683},
      {"s": "PS1-11bam(SLSN-I) +3d", "w": 2890, "f": 0.683},
      {"s": "PS1-11bam(SLSN-I) +3d", "w": 2942, "f": 0.826},
      {"s": "PS1-11bam(SLSN-I) +3d", "w": 2962, "f": 0.8},
      {"s": "PS1-11bam(SLSN-I) +3d", "w": 2964, "f": 0.0838},
      {"s": "PS1-11bam(SLSN-I) +3d", "w": 2966, "f": 0.8},
      {"s": "PS1-11bam(SLSN-I) +3d", "w": 2987, "f": 0.782},
      {"s": "PS1-11bam(SLSN-I) +3d", "w": 3017, "f": 0.683},
      {"s": "PS1-11bam(SLSN-I) +3d", "w": 3064, "f": 0.327},
      {"s": "PS1-11bam(SLSN-I) +3d", "w": 3103, "f": 1.085},
      {"s": "PS1-11bam(SLSN-I) +3d", "w": 3142, "f": 0.564},
      {"s": "PS1-11bam(SLSN-I) +3d", "w": 3174, "f": 0.564},
      {"s": "PS1-11bam(SLSN-I) +3d", "w": 3223, "f": 1.87},
      {"s": "PS1-11bam(SLSN-I) +3d", "w": 3264, "f": 1.92},
      {"s": "PS1-11bam(SLSN-I) +3d", "w": 3297, "f": 0.52},
      {"s": "PS1-11bam(SLSN-I) +3d", "w": 3312, "f": 0.6},
      {"s": "PS1-11bam(SLSN-I) +3d", "w": 3314, "f": 0.0001},

      {"s": "Gaia16apd(SLSN-I), 0d", "w": 1005, "f": 0.0513},
      {"s": "Gaia16apd(SLSN-I), 0d", "w": 1010, "f": 0.19},
      {"s": "Gaia16apd(SLSN-I), 0d", "w": 1018, "f": 0.1445},
      {"s": "Gaia16apd(SLSN-I), 0d", "w": 1023, "f": 0.0239},
      {"s": "Gaia16apd(SLSN-I), 0d", "w": 1036, "f": 0.0772},
      {"s": "Gaia16apd(SLSN-I), 0d", "w": 1044, "f": 0.19},
      {"s": "Gaia16apd(SLSN-I), 0d", "w": 1057, "f": 0.23},
      {"s": "Gaia16apd(SLSN-I), 0d", "w": 1065, "f": 0.2},
      {"s": "Gaia16apd(SLSN-I), 0d", "w": 1076, "f": 0.161},
      {"s": "Gaia16apd(SLSN-I), 0d", "w": 1090, "f": 0.175},
      {"s": "Gaia16apd(SLSN-I), 0d", "w": 1100, "f": 0.2},
      {"s": "Gaia16apd(SLSN-I), 0d", "w": 1113, "f": 0.23},
      {"s": "Gaia16apd(SLSN-I), 0d", "w": 1120, "f": 0.21},
      {"s": "Gaia16apd(SLSN-I), 0d", "w": 1127, "f": 0.249},
      {"s": "Gaia16apd(SLSN-I), 0d", "w": 1137, "f": 0.3},
      {"s": "Gaia16apd(SLSN-I), 0d", "w": 1147, "f": 0.43},
      {"s": "Gaia16apd(SLSN-I), 0d", "w": 1155, "f": 0.5},
      {"s": "Gaia16apd(SLSN-I), 0d", "w": 1165, "f": 0.564},
      {"s": "Gaia16apd(SLSN-I), 0d", "w": 1179, "f": 0.492},
      {"s": "Gaia16apd(SLSN-I), 0d", "w": 1195, "f": 0.396},
      {"s": "Gaia16apd(SLSN-I), 0d", "w": 1198, "f": 0.161},
      {"s": "Gaia16apd(SLSN-I), 0d", "w": 1207, "f": 0.301},
      {"s": "Gaia16apd(SLSN-I), 0d", "w": 1225, "f": 0.327},
      {"s": "Gaia16apd(SLSN-I), 0d", "w": 1235, "f": 0.38},
      {"s": "Gaia16apd(SLSN-I), 0d", "w": 1245, "f": 0.35},
      {"s": "Gaia16apd(SLSN-I), 0d", "w": 1254, "f": 0.43},
      {"s": "Gaia16apd(SLSN-I), 0d", "w": 1262, "f": 0.45},
      {"s": "Gaia16apd(SLSN-I), 0d", "w": 1270, "f": 0.396},
      {"s": "Gaia16apd(SLSN-I), 0d", "w": 1280, "f": 0.35},
      {"s": "Gaia16apd(SLSN-I), 0d", "w": 1286, "f": 0.318},
      {"s": "Gaia16apd(SLSN-I), 0d", "w": 1295, "f": 0.36},
      {"s": "Gaia16apd(SLSN-I), 0d", "w": 1305, "f": 0.479},
      {"s": "Gaia16apd(SLSN-I), 0d", "w": 1322, "f": 0.683},
      {"s": "Gaia16apd(SLSN-I), 0d", "w": 1339, "f": 1.18},
      {"s": "Gaia16apd(SLSN-I), 0d", "w": 1356, "f": 1.085},
      {"s": "Gaia16apd(SLSN-I), 0d", "w": 1374, "f": 0.897},
      {"s": "Gaia16apd(SLSN-I), 0d", "w": 1388, "f": 0.564},
      {"s": "Gaia16apd(SLSN-I), 0d", "w": 1398, "f": 0.345},
      {"s": "Gaia16apd(SLSN-I), 0d", "w": 1416, "f": 0.286},
      {"s": "Gaia16apd(SLSN-I), 0d", "w": 1427, "f": 0.301},
      {"s": "Gaia16apd(SLSN-I), 0d", "w": 1445, "f": 0.43},
      {"s": "Gaia16apd(SLSN-I), 0d", "w": 1455, "f": 0.62},
      {"s": "Gaia16apd(SLSN-I), 0d", "w": 1462, "f": 0.5},
      {"s": "Gaia16apd(SLSN-I), 0d", "w": 1471, "f": 0.741},
      {"s": "Gaia16apd(SLSN-I), 0d", "w": 1480, "f": 1.0},
      {"s": "Gaia16apd(SLSN-I), 0d", "w": 1488, "f": 0.75},
      {"s": "Gaia16apd(SLSN-I), 0d", "w": 1497, "f": 1.085},
      {"s": "Gaia16apd(SLSN-I), 0d", "w": 1505, "f": 1.25},
      {"s": "Gaia16apd(SLSN-I), 0d", "w": 1512, "f": 0.9},
      {"s": "Gaia16apd(SLSN-I), 0d", "w": 1520, "f": 1.2},
      {"s": "Gaia16apd(SLSN-I), 0d", "w": 1528, "f": 0.85},
      {"s": "Gaia16apd(SLSN-I), 0d", "w": 1536, "f": 1.115},
      {"s": "Gaia16apd(SLSN-I), 0d", "w": 1545, "f": 1.25},
      {"s": "Gaia16apd(SLSN-I), 0d", "w": 1555, "f": 0.9},
      {"s": "Gaia16apd(SLSN-I), 0d", "w": 1565, "f": 1.05},
      {"s": "Gaia16apd(SLSN-I), 0d", "w": 1575, "f": 0.897},
      {"s": "Gaia16apd(SLSN-I), 0d", "w": 1585, "f": 0.75},
      {"s": "Gaia16apd(SLSN-I), 0d", "w": 1595, "f": 0.9},
      {"s": "Gaia16apd(SLSN-I), 0d", "w": 1605, "f": 0.65},
      {"s": "Gaia16apd(SLSN-I), 0d", "w": 1616, "f": 0.683},
      {"s": "Gaia16apd(SLSN-I), 0d", "w": 1625, "f": 0.7},
      {"s": "Gaia16apd(SLSN-I), 0d", "w": 1635, "f": 0.5},
      {"s": "Gaia16apd(SLSN-I), 0d", "w": 1645, "f": 0.55},
      {"s": "Gaia16apd(SLSN-I), 0d", "w": 1658, "f": 0.43},
      {"s": "Gaia16apd(SLSN-I), 0d", "w": 1670, "f": 0.38},
      {"s": "Gaia16apd(SLSN-I), 0d", "w": 1680, "f": 0.45},
      {"s": "Gaia16apd(SLSN-I), 0d", "w": 1690, "f": 0.3},
      {"s": "Gaia16apd(SLSN-I), 0d", "w": 1700, "f": 0.286},
      {"s": "Gaia16apd(SLSN-I), 0d", "w": 1717, "f": 0.263},
      {"s": "Gaia16apd(SLSN-I), 0d", "w": 1753, "f": 0.396},
      {"s": "Gaia16apd(SLSN-I), 0d", "w": 1780, "f": 0.45},
      {"s": "Gaia16apd(SLSN-I), 0d", "w": 1800, "f": 0.5},
      {"s": "Gaia16apd(SLSN-I), 0d", "w": 1829, "f": 0.564},
      {"s": "Gaia16apd(SLSN-I), 0d", "w": 1850, "f": 0.6},
      {"s": "Gaia16apd(SLSN-I), 0d", "w": 1870, "f": 0.52},
      {"s": "Gaia16apd(SLSN-I), 0d", "w": 1890, "f": 0.6},
      {"s": "Gaia16apd(SLSN-I), 0d", "w": 1925, "f": 0.564},
      {"s": "Gaia16apd(SLSN-I), 0d", "w": 1950, "f": 0.75},
      {"s": "Gaia16apd(SLSN-I), 0d", "w": 1975, "f": 0.973},
      {"s": "Gaia16apd(SLSN-I), 0d", "w": 2000, "f": 1.15},
      {"s": "Gaia16apd(SLSN-I), 0d", "w": 2030, "f": 1.3},
      {"s": "Gaia16apd(SLSN-I), 0d", "w": 2062, "f": 1.46},
      {"s": "Gaia16apd(SLSN-I), 0d", "w": 2090, "f": 1.35},
      {"s": "Gaia16apd(SLSN-I), 0d", "w": 2115, "f": 1.28},
      {"s": "Gaia16apd(SLSN-I), 0d", "w": 2140, "f": 0.85},
      {"s": "Gaia16apd(SLSN-I), 0d", "w": 2169, "f": 0.52},
      {"s": "Gaia16apd(SLSN-I), 0d", "w": 2200, "f": 0.7},
      {"s": "Gaia16apd(SLSN-I), 0d", "w": 2225, "f": 0.897},
      {"s": "Gaia16apd(SLSN-I), 0d", "w": 2260, "f": 1.2},
      {"s": "Gaia16apd(SLSN-I), 0d", "w": 2300, "f": 1.46},
      {"s": "Gaia16apd(SLSN-I), 0d", "w": 2340, "f": 1.2},
      {"s": "Gaia16apd(SLSN-I), 0d", "w": 2377, "f": 1.085},
      {"s": "Gaia16apd(SLSN-I), 0d", "w": 2420, "f": 1.15},
      {"s": "Gaia16apd(SLSN-I), 0d", "w": 2450, "f": 1.25},
      {"s": "Gaia16apd(SLSN-I), 0d", "w": 2482, "f": 1.18},
      {"s": "Gaia16apd(SLSN-I), 0d", "w": 2520, "f": 1.05},
      {"s": "Gaia16apd(SLSN-I), 0d", "w": 2550, "f": 1.0},
      {"s": "Gaia16apd(SLSN-I), 0d", "w": 2591, "f": 0.897},
      {"s": "Gaia16apd(SLSN-I), 0d", "w": 2630, "f": 0.75},
      {"s": "Gaia16apd(SLSN-I), 0d", "w": 2658, "f": 0.721},
      {"s": "Gaia16apd(SLSN-I), 0d", "w": 2700, "f": 1.0},
      {"s": "Gaia16apd(SLSN-I), 0d", "w": 2726, "f": 1.18},
      {"s": "Gaia16apd(SLSN-I), 0d", "w": 2803, "f": 1.085},
      {"s": "Gaia16apd(SLSN-I), 0d", "w": 2817, "f": 1.77},
      {"s": "Gaia16apd(SLSN-I), 0d", "w": 2832, "f": 0.897},
      {"s": "Gaia16apd(SLSN-I), 0d", "w": 2854, "f": 1.55},
      {"s": "Gaia16apd(SLSN-I), 0d", "w": 2868, "f": 0.947},
      {"s": "Gaia16apd(SLSN-I), 0d", "w": 2890, "f": 1.35},
      {"s": "Gaia16apd(SLSN-I), 0d", "w": 2912, "f": 0.973},
      {"s": "Gaia16apd(SLSN-I), 0d", "w": 2942, "f": 1.28},
      {"s": "Gaia16apd(SLSN-I), 0d", "w": 2964, "f": 1.03},
      {"s": "Gaia16apd(SLSN-I), 0d", "w": 3017, "f": 1.18},
      {"s": "Gaia16apd(SLSN-I), 0d", "w": 3040, "f": 0.973},
      {"s": "Gaia16apd(SLSN-I), 0d", "w": 3064, "f": 1.18},
      {"s": "Gaia16apd(SLSN-I), 0d", "w": 3103, "f": 0.973},
      {"s": "Gaia16apd(SLSN-I), 0d", "w": 3174, "f": 0.973},
      {"s": "Gaia16apd(SLSN-I), 0d", "w": 3250, "f": 0.9},
      {"s": "Gaia16apd(SLSN-I), 0d", "w": 3300, "f": 0.88},
      {"s": "Gaia16apd(SLSN-I), 0d", "w": 3339, "f": 0.849},
      {"s": "Gaia16apd(SLSN-I), 0d", "w": 3425, "f": 0.782},
      {"s": "Gaia16apd(SLSN-I), 0d", "w": 3480, "f": 0.72},
      {"s": "Gaia16apd(SLSN-I), 0d", "w": 3520, "f": 0.65},
      {"s": "Gaia16apd(SLSN-I), 0d", "w": 3568, "f": 0.596},
      {"s": "Gaia16apd(SLSN-I), 0d", "w": 3600, "f": 0.62},
      {"s": "Gaia16apd(SLSN-I), 0d", "w": 3660, "f": 0.683},
      {"s": "Gaia16apd(SLSN-I), 0d", "w": 3740, "f": 0.62},
      {"s": "Gaia16apd(SLSN-I), 0d", "w": 3821, "f": 0.629},
      {"s": "Gaia16apd(SLSN-I), 0d", "w": 3880, "f": 0.6},
      {"s": "Gaia16apd(SLSN-I), 0d", "w": 3949, "f": 0.52},
      {"s": "Gaia16apd(SLSN-I), 0d", "w": 4000, "f": 0.48},
      {"s": "Gaia16apd(SLSN-I), 0d", "w": 4080, "f": 0.42},
      {"s": "Gaia16apd(SLSN-I), 0d", "w": 4155, "f": 0.375},
      {"s": "Gaia16apd(SLSN-I), 0d", "w": 4230, "f": 0.4},
      {"s": "Gaia16apd(SLSN-I), 0d", "w": 4305, "f": 0.454},
      {"s": "Gaia16apd(SLSN-I), 0d", "w": 4380, "f": 0.38},
      {"s": "Gaia16apd(SLSN-I), 0d", "w": 4449, "f": 0.336},
      {"s": "Gaia16apd(SLSN-I), 0d", "w": 4520, "f": 0.4},
      {"s": "Gaia16apd(SLSN-I), 0d", "w": 4587, "f": 0.454},
      {"s": "Gaia16apd(SLSN-I), 0d", "w": 4680, "f": 0.4},
      {"s": "Gaia16apd(SLSN-I), 0d", "w": 4765, "f": 0.375},
      {"s": "Gaia16apd(SLSN-I), 0d", "w": 4880, "f": 0.33},
      {"s": "Gaia16apd(SLSN-I), 0d", "w": 5000, "f": 0.286},

      {"s": "SN1993J(IIb), +17d", "w": 1620, "f": 0.375},
      {"s": "SN1993J(IIb), +17d", "w": 1641, "f": 0.23},
      {"s": "SN1993J(IIb), +17d", "w": 1653, "f": 0.1331},
      {"s": "SN1993J(IIb), +17d", "w": 1696, "f": 0.1445},
      {"s": "SN1993J(IIb), +17d", "w": 1720, "f": 0.15},
      {"s": "SN1993J(IIb), +17d", "w": 1753, "f": 0.161},
      {"s": "SN1993J(IIb), +17d", "w": 1780, "f": 0.16},
      {"s": "SN1993J(IIb), +17d", "w": 1816, "f": 0.1656},
      {"s": "SN1993J(IIb), +17d", "w": 1840, "f": 0.17},
      {"s": "SN1993J(IIb), +17d", "w": 1876, "f": 0.1656},
      {"s": "SN1993J(IIb), +17d", "w": 1925, "f": 0.175},
      {"s": "SN1993J(IIb), +17d", "w": 1950, "f": 0.155},
      {"s": "SN1993J(IIb), +17d", "w": 1975, "f": 0.1406},
      {"s": "SN1993J(IIb), +17d", "w": 2010, "f": 0.145},
      {"s": "SN1993J(IIb), +17d", "w": 2042, "f": 0.1526},
      {"s": "SN1993J(IIb), +17d", "w": 2080, "f": 0.155},
      {"s": "SN1993J(IIb), +17d", "w": 2115, "f": 0.161},
      {"s": "SN1993J(IIb), +17d", "w": 2150, "f": 0.16},
      {"s": "SN1993J(IIb), +17d", "w": 2186, "f": 0.1656},
      {"s": "SN1993J(IIb), +17d", "w": 2220, "f": 0.17},
      {"s": "SN1993J(IIb), +17d", "w": 2259, "f": 0.19},
      {"s": "SN1993J(IIb), +17d", "w": 2300, "f": 0.2},
      {"s": "SN1993J(IIb), +17d", "w": 2341, "f": 0.23},
      {"s": "SN1993J(IIb), +17d", "w": 2371, "f": 0.242},
      {"s": "SN1993J(IIb), +17d", "w": 2383, "f": 0.175},
      {"s": "SN1993J(IIb), +17d", "w": 2401, "f": 0.286},
      {"s": "SN1993J(IIb), +17d", "w": 2440, "f": 0.3},
      {"s": "SN1993J(IIb), +17d", "w": 2482, "f": 0.318},
      {"s": "SN1993J(IIb), +17d", "w": 2520, "f": 0.35},
      {"s": "SN1993J(IIb), +17d", "w": 2558, "f": 0.396},
      {"s": "SN1993J(IIb), +17d", "w": 2591, "f": 0.454},
      {"s": "SN1993J(IIb), +17d", "w": 2604, "f": 0.249},
      {"s": "SN1993J(IIb), +17d", "w": 2630, "f": 0.396},
      {"s": "SN1993J(IIb), +17d", "w": 2699, "f": 0.564},
      {"s": "SN1993J(IIb), +17d", "w": 2747, "f": 0.782},
      {"s": "SN1993J(IIb), +17d", "w": 2796, "f": 0.43},
      {"s": "SN1993J(IIb), +17d", "w": 2832, "f": 0.741},
      {"s": "SN1993J(IIb), +17d", "w": 2912, "f": 0.849},
      {"s": "SN1993J(IIb), +17d", "w": 2987, "f": 0.741},
      {"s": "SN1993J(IIb), +17d", "w": 3064, "f": 0.721},
      {"s": "SN1993J(IIb), +17d", "w": 3142, "f": 0.897},
      {"s": "SN1993J(IIb), +17d", "w": 3198, "f": 1.085},
      {"s": "SN1993J(IIb), +17d", "w": 3280, "f": 0.897},
      {"s": "SN1993J(IIb), +17d", "w": 3348, "f": 0.826},
      {"s": "SN1993J(IIb), +17d", "w": 3425, "f": 1.085},
      {"s": "SN1993J(IIb), +17d", "w": 3469, "f": 1.42},
      {"s": "SN1993J(IIb), +17d", "w": 3568, "f": 1.55},
      {"s": "SN1993J(IIb), +17d", "w": 3660, "f": 1.68},
      {"s": "SN1993J(IIb), +17d", "w": 3725, "f": 2.14},
      {"s": "SN1993J(IIb), +17d", "w": 3792, "f": 1.68},
      {"s": "SN1993J(IIb), +17d", "w": 3850, "f": 1.55},
      {"s": "SN1993J(IIb), +17d", "w": 3919, "f": 2.67},
      {"s": "SN1993J(IIb), +17d", "w": 4050, "f": 2.67},
      {"s": "SN1993J(IIb), +17d", "w": 4155, "f": 2.33},
      {"s": "SN1993J(IIb), +17d", "w": 4229, "f": 1.68},
      {"s": "SN1993J(IIb), +17d", "w": 4338, "f": 2.03},
      {"s": "SN1993J(IIb), +17d", "w": 4449, "f": 2.2},
      {"s": "SN1993J(IIb), +17d", "w": 4564, "f": 3.06},
      {"s": "SN1993J(IIb), +17d", "w": 4646, "f": 3.23},
      {"s": "SN1993J(IIb), +17d", "w": 4717, "f": 2.46},
      {"s": "SN1993J(IIb), +17d", "w": 4777, "f": 3.32}
    ]
  },
  "layer": [
    {
      "data": {"name": "spectra"},
      "mark": {"type": "line", "strokeWidth": 2, "clip": true},
      "encoding": {
        "x": {"field": "w", "type": "quantitative",
          "scale": {"type": "log", "domain": [980, 5000], "nice": false},
          "axis": {"orient": "bottom", "values": [1000, 2000, 3000, 4000, 5000], "format": "d", "tickSize": -8, "labelPadding": 16, "labelFlush": false, "title": "Rest-frame Wavelength [Å]", "titlePadding": 5}},
        "y": {"field": "f", "type": "quantitative",
          "scale": {"type": "log", "domain": [0.0002, 10], "nice": false},
          "axis": {"orient": "left", "values": [0.001, 0.01, 0.1, 1, 10], "tickSize": -8, "labelPadding": 14, "labelFlush": false,
            "labelExpr": "['10⁻³','10⁻²','10⁻¹','10⁰','10¹'][round(log(datum.value)/LN10)+3]",
            "title": "Normalized Flux Density", "titlePadding": 10}},
        "color": {"field": "s", "type": "nominal",
          "scale": {"domain": ["Gaia16apd(SLSN-I), 0d", "PS1-11bam(SLSN-I) +3d", "SN1992A(Ia),+5d", "SN1999em(IIP), +5d", "SN2011fe(Ia),+3.4d", "SN1993J(IIb), +17d"],
                    "range": ["#ff0000", "#00ff00", "#00bfbf", "#800080", "#666666", "#ffa500"]},
          "legend": {"title": null, "orient": "none", "legendX": 384, "legendY": 242, "padding": 0,
            "symbolType": "M-1,0H1M0,-0.25V0.25", "symbolSize": 625, "symbolStrokeWidth": 2,
            "labelFontSize": 16, "labelFont": "DejaVu Sans", "labelColor": "black", "labelLimit": 400, "labelOffset": 18, "rowPadding": -1}}
      }
    },
    {
      "data": {"name": "lines"},
      "mark": {"type": "rule", "color": "#ff0000", "strokeWidth": 2, "strokeDash": [6, 4]},
      "encoding": {
        "x": {"field": "w", "type": "quantitative",
          "scale": {"type": "log", "domain": [980, 5000], "nice": false},
          "axis": {"orient": "top", "values": [1000, 2000, 3000, 4000, 5000], "labels": false, "tickSize": -8, "title": null}}
      }
    },
    {
      "data": {"name": "ticks"},
      "mark": {"type": "rule", "opacity": 0},
      "encoding": {
        "y": {"field": "v", "type": "quantitative",
          "scale": {"type": "log", "domain": [0.0002, 10], "nice": false},
          "axis": {"orient": "left", "values": [0.0002, 0.0003, 0.0004, 0.0005, 0.0006, 0.0007, 0.0008, 0.0009, 0.002, 0.003, 0.004, 0.005, 0.006, 0.007, 0.008, 0.009, 0.02, 0.03, 0.04, 0.05, 0.06, 0.07, 0.08, 0.09, 0.2, 0.3, 0.4, 0.5, 0.6, 0.7, 0.8, 0.9, 2, 3, 4, 5, 6, 7, 8, 9], "labels": false, "tickSize": -4, "title": null}}
      }
    },
    {
      "data": {"name": "ticks"},
      "mark": {"type": "rule", "opacity": 0},
      "encoding": {
        "y": {"field": "v", "type": "quantitative",
          "scale": {"type": "log", "domain": [0.0002, 10], "nice": false},
          "axis": {"orient": "right", "values": [0.001, 0.01, 0.1, 1, 10], "labels": false, "tickSize": -8, "title": null}}
      }
    },
    {
      "data": {"name": "ticks"},
      "mark": {"type": "rule", "opacity": 0},
      "encoding": {
        "y": {"field": "v", "type": "quantitative",
          "scale": {"type": "log", "domain": [0.0002, 10], "nice": false},
          "axis": {"orient": "right", "values": [0.0002, 0.0003, 0.0004, 0.0005, 0.0006, 0.0007, 0.0008, 0.0009, 0.002, 0.003, 0.004, 0.005, 0.006, 0.007, 0.008, 0.009, 0.02, 0.03, 0.04, 0.05, 0.06, 0.07, 0.08, 0.09, 0.2, 0.3, 0.4, 0.5, 0.6, 0.7, 0.8, 0.9, 2, 3, 4, 5, 6, 7, 8, 9], "labels": false, "tickSize": -4, "title": null}}
      }
    }
  ],
  "resolve": {"axis": {"x": "independent", "y": "independent"}}
}
